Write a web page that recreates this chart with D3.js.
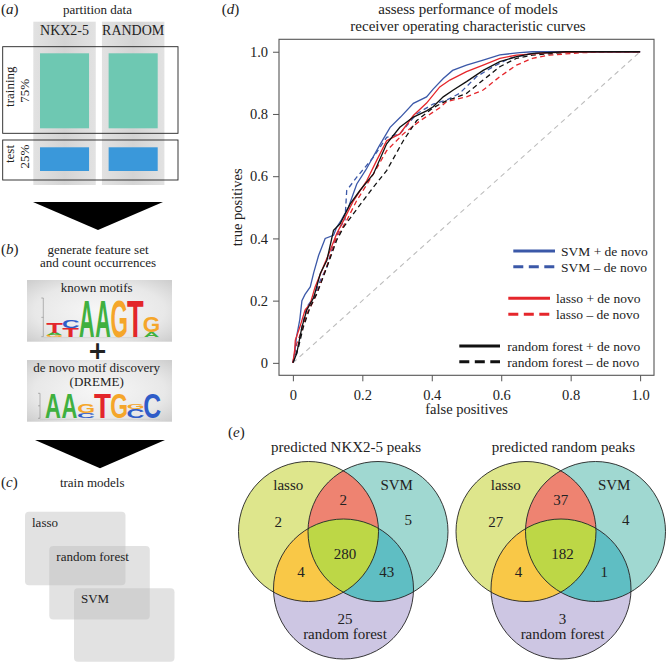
<!DOCTYPE html>
<html>
<head>
<meta charset="utf-8">
<script src="https://cdn.jsdelivr.net/npm/d3@7"></script>
<style>
  html, body { margin: 0; padding: 0; background: #fff; }
  svg { display: block; }
  text { font-family: "Liberation Serif", "Times New Roman", serif; fill: #222; }
</style>
</head>
<body>
<svg id="chart" width="666" height="665"></svg>
<script>
// ---------------- DATA ----------------
// (a) partition
const partitionGroups = ["NKX2-5", "RANDOM"];
const partitionSplits = ["training", "test"];
const partitionShares = ["75%", "25%"];

// (b) motif logos: each column listed bottom -> top as [letter, bits]
const knownMotif = [
  [["G", 0.1], ["A", 0.1], ["T", 0.55]],
  [["T", 0.45], ["C", 0.43]],
  [["A", 1.9]],
  [["A", 1.9]],
  [["G", 1.9]],
  [["T", 1.9]],
  [["A", 0.25], ["G", 0.85]]
];
const dremeMotif = [
  [["A", 2.0]],
  [["A", 2.0]],
  [["C", 0.4], ["G", 0.7]],
  [["T", 2.0]],
  [["G", 2.0]],
  [["C", 0.75], ["G", 0.45]],
  [["C", 2.0]]
];

// (c) models
const models = ["lasso", "random forest", "SVM"];

// (d) ROC curves [false positive rate, true positive rate]
const rocTicks = [0, 0.2, 0.4, 0.6, 0.8, 1.0];
const rocTickLabels = ["0", "0.2", "0.4", "0.6", "0.8", "1.0"];
const svmPlus = [[0,0],[0.005,0.03],[0.01,0.08],[0.02,0.14],[0.026,0.20],[0.035,0.22],[0.05,0.244],[0.06,0.29],[0.074,0.345],[0.093,0.40],[0.117,0.41],[0.126,0.436],[0.14,0.46],[0.16,0.50],[0.184,0.575],[0.21,0.62],[0.25,0.70],[0.28,0.757],[0.31,0.79],[0.347,0.834],[0.385,0.855],[0.404,0.88],[0.433,0.914],[0.46,0.94],[0.5,0.957],[0.548,0.973],[0.596,0.99],[0.653,0.997],[0.69,1.0],[1.0,1.0]];
const svmMinus = [[0,0],[0.011,0.03],[0.026,0.115],[0.04,0.18],[0.06,0.21],[0.079,0.265],[0.098,0.308],[0.117,0.383],[0.136,0.436],[0.15,0.46],[0.155,0.554],[0.184,0.597],[0.232,0.661],[0.27,0.725],[0.308,0.736],[0.356,0.8],[0.404,0.832],[0.443,0.845],[0.48,0.866],[0.529,0.92],[0.577,0.952],[0.624,0.979],[0.69,0.995],[0.787,1.0],[1,1]];
const lassoPlus = [[0,0],[0.005,0.04],[0.007,0.073],[0.02,0.115],[0.035,0.17],[0.05,0.19],[0.064,0.244],[0.088,0.31],[0.107,0.36],[0.126,0.415],[0.146,0.458],[0.174,0.52],[0.213,0.586],[0.241,0.65],[0.27,0.714],[0.308,0.736],[0.347,0.795],[0.385,0.835],[0.423,0.887],[0.452,0.909],[0.5,0.936],[0.548,0.957],[0.596,0.979],[0.644,0.989],[0.739,0.997],[0.883,1.0],[1,1]];
const lassoMinus = [[0,0],[0.011,0.062],[0.026,0.105],[0.04,0.158],[0.06,0.2],[0.083,0.265],[0.107,0.34],[0.126,0.404],[0.155,0.458],[0.184,0.522],[0.232,0.607],[0.27,0.682],[0.318,0.736],[0.366,0.778],[0.423,0.82],[0.443,0.84],[0.5,0.855],[0.548,0.877],[0.596,0.92],[0.644,0.957],[0.69,0.979],[0.739,0.989],[0.835,0.997],[0.93,1.0],[1,1]];
const rfPlus = [[0,0],[0.011,0.03],[0.026,0.115],[0.04,0.17],[0.06,0.21],[0.079,0.287],[0.098,0.33],[0.117,0.426],[0.136,0.447],[0.165,0.511],[0.193,0.554],[0.232,0.607],[0.27,0.704],[0.308,0.757],[0.347,0.79],[0.385,0.81],[0.404,0.823],[0.433,0.855],[0.462,0.877],[0.5,0.904],[0.548,0.94],[0.596,0.968],[0.644,0.984],[0.692,0.995],[0.787,1.0],[1,1]];
const rfMinus = [[0,0],[0.016,0.05],[0.03,0.115],[0.05,0.18],[0.069,0.222],[0.098,0.308],[0.126,0.394],[0.146,0.436],[0.174,0.479],[0.203,0.522],[0.232,0.565],[0.27,0.618],[0.318,0.714],[0.356,0.778],[0.404,0.82],[0.443,0.843],[0.462,0.85],[0.5,0.866],[0.548,0.909],[0.596,0.952],[0.644,0.979],[0.69,0.989],[0.787,0.998],[0.883,1.0],[1,1]];
const rocSeriesNames = ["SVM + de novo", "SVM \u2013 de novo", "lasso + de novo", "lasso \u2013 de novo", "random forest + de novo", "random forest \u2013 de novo"];

// (e) Venn counts: order = lasso only, lasso∩SVM, SVM only, lasso∩rf, all, SVM∩rf, rf only
const vennRegions = ["lasso", "lasso&SVM", "SVM", "lasso&rf", "all", "SVM&rf", "rf"];
const nkxCounts = [2, 2, 5, 4, 280, 43, 25];
const randomCounts = [27, 37, 4, 4, 182, 1, 3];
const vennTitles = ["predicted NKX2-5 peaks", "predicted random peaks"];

// ---------------- DRAWING ----------------
const svg = d3.select("#chart");
const defs = svg.append("defs");

function panelLabel(x, y, letter) {
  const t = svg.append("text").attr("x", x).attr("y", y).attr("font-size", 15);
  t.append("tspan").text("(");
  t.append("tspan").attr("font-style", "italic").text(letter);
  t.append("tspan").text(")");
}

// ===== (a) =====
panelLabel(1, 14, "a");
svg.append("text").attr("x", 97.5).attr("y", 14).attr("text-anchor", "middle").attr("font-size", 13).text("partition data");

const colGrad = defs.append("linearGradient").attr("id", "colGrad").attr("x1", 0).attr("x2", 1).attr("y1", 0).attr("y2", 0);
colGrad.append("stop").attr("offset", 0).attr("stop-color", "#e2e2e2");
colGrad.append("stop").attr("offset", 0.5).attr("stop-color", "#d4d4d4");
colGrad.append("stop").attr("offset", 1).attr("stop-color", "#e2e2e2");

const colX = d3.scaleBand().domain(partitionGroups).range([33.3, 164.4]).paddingInner(0.09);
partitionGroups.forEach(gname => {
  const x = colX(gname), w = colX.bandwidth();
  svg.append("rect").attr("x", x).attr("y", 21.7).attr("width", w).attr("height", 163.3).attr("fill", "url(#colGrad)");
  svg.append("text").attr("x", x + w / 2).attr("y", 35).attr("text-anchor", "middle").attr("font-size", 14).text(gname);
  svg.append("rect").attr("x", x + 6.7).attr("y", 53.3).attr("width", w - 13.4).attr("height", 75).attr("fill", "#6ec8b2");
  svg.append("rect").attr("x", x + 6.7).attr("y", 147.3).attr("width", w - 13.4).attr("height", 23.7).attr("fill", "#3a98da");
});
const splitBoxes = [[46.7, 133.3], [140, 180]];
const splitCenters = [[86.7, 90.8], [154, 156.7]];
partitionSplits.forEach((s, i) => {
  const [y0, y1] = splitBoxes[i];
  svg.append("rect").attr("x", 2.7).attr("y", y0).attr("width", 175.3).attr("height", y1 - y0)
    .attr("fill", "none").attr("stroke", "#222").attr("stroke-width", 0.9);
  svg.append("text").attr("transform", `translate(14,${splitCenters[i][0]}) rotate(-90)`).attr("text-anchor", "middle").attr("font-size", 13).text(s);
  svg.append("text").attr("transform", `translate(29,${splitCenters[i][1]}) rotate(-90)`).attr("text-anchor", "middle").attr("font-size", 13).text(partitionShares[i]);
});

// arrows
function arrow(x0, x1, yTop, yApex) {
  svg.append("path").attr("d", `M${x0},${yTop}L${x1},${yTop}L${(x0 + x1) / 2},${yApex}Z`).attr("fill", "#000");
}
arrow(33, 163, 202, 230);
arrow(35, 165, 440, 468.3);

// ===== (b) =====
panelLabel(1, 254, "b");
svg.append("text").attr("x", 98).attr("y", 253.5).attr("text-anchor", "middle").attr("font-size", 13).text("generate feature set");
svg.append("text").attr("x", 98).attr("y", 267.3).attr("text-anchor", "middle").attr("font-size", 13).text("and count occurrences");

const boxGrad = defs.append("radialGradient").attr("id", "boxGrad").attr("cx", 0.5).attr("cy", 0.5).attr("r", 0.75);
boxGrad.append("stop").attr("offset", 0).attr("stop-color", "#f7f7f7");
boxGrad.append("stop").attr("offset", 0.6).attr("stop-color", "#e8e8e8");
boxGrad.append("stop").attr("offset", 1).attr("stop-color", "#c8c8c8");

svg.append("rect").attr("x", 27).attr("y", 280).attr("width", 145).attr("height", 61.7).attr("fill", "url(#boxGrad)");
svg.append("text").attr("x", 96.7).attr("y", 292.3).attr("text-anchor", "middle").attr("font-size", 13).text("known motifs");
svg.append("text").attr("x", 97.5).attr("y", 359).attr("text-anchor", "middle").attr("font-size", 24).attr("font-weight", "bold")
  .style("font-family", "'DejaVu Sans', sans-serif").text("+");
svg.append("rect").attr("x", 27).attr("y", 360).attr("width", 145).attr("height", 61.7).attr("fill", "url(#boxGrad)");
svg.append("text").attr("x", 96.7).attr("y", 371.7).attr("text-anchor", "middle").attr("font-size", 13).text("de novo motif discovery");
svg.append("text").attr("x", 96.7).attr("y", 386.3).attr("text-anchor", "middle").attr("font-size", 13).text("(DREME)");

const letterColor = { A: "#3fb03f", C: "#2f5cc8", G: "#f5a62a", T: "#e3262b" };
const letterInk = { A: [0.0, 0.722], C: [0.04, 0.68], G: [0.04, 0.73], T: [0.02, 0.59] };
function letter(g, ch, x, yTop, w, h) {
  if (h <= 0) return;
  const [l, r] = letterInk[ch];
  const sx = w / ((r - l) * 100), sy = h / 72;
  g.append("text").attr("transform", `translate(${x - l * 100 * sx},${yTop + h}) scale(${sx},${sy})`)
    .attr("font-size", 100).attr("font-weight", "bold")
    .style("font-family", "'Liberation Sans', Arial, sans-serif")
    .style("fill", letterColor[ch]).text(ch);
}
function logo(cols, x0, x1, yBase, pxPerBit, axisX) {
  const g = svg.append("g");
  const xb = d3.scaleBand().domain(d3.range(cols.length)).range([x0, x1]).paddingInner(0.04);
  const yb = d3.scaleLinear().domain([0, 2]).range([yBase, yBase - 2 * pxPerBit]);
  g.append("line").attr("x1", axisX).attr("x2", axisX).attr("y1", yb(0)).attr("y2", yb(2)).attr("stroke", "#777").attr("stroke-width", 0.5);
  [0, 1, 2].forEach(b => g.append("line").attr("x1", axisX - 2).attr("x2", axisX).attr("y1", yb(b)).attr("y2", yb(b)).attr("stroke", "#777").attr("stroke-width", 0.5));
  g.append("line").attr("x1", axisX).attr("x2", x1).attr("y1", yBase + 1).attr("y2", yBase + 1).attr("stroke", "#bbb").attr("stroke-width", 0.4);
  cols.forEach((col, i) => {
    let acc = 0;
    col.forEach(([ch, bits]) => {
      const yt = yb(acc + bits), ybot = yb(acc);
      letter(g, ch, xb(i), yt, xb.bandwidth(), ybot - yt);
      acc += bits;
    });
  });
}
logo(knownMotif, 46.7, 159.3, 336.7, 19.35, 43.3);
logo(dremeMotif, 45, 160, 418.3, 12.5, 40);

// ===== (c) =====
panelLabel(1, 486.7, "c");
svg.append("text").attr("x", 92.2).attr("y", 486.7).attr("text-anchor", "middle").attr("font-size", 13).text("train models");
const modelBoxes = [[25, 511.7], [49.3, 546], [74, 588.3]];
models.forEach((m, i) => {
  const [x, y] = modelBoxes[i];
  svg.append("rect").attr("x", x).attr("y", y).attr("width", 100.5).attr("height", 73.5).attr("rx", 4)
    .attr("fill", "#b9b9b9").attr("fill-opacity", 0.42);
});
models.forEach((m, i) => {
  const [x, y] = modelBoxes[i];
  svg.append("text").attr("x", x + 7).attr("y", y + 15).attr("font-size", 13).text(m);
});

// ===== (d) ROC =====
panelLabel(221.7, 14, "d");
svg.append("text").attr("x", 468).attr("y", 14).attr("text-anchor", "middle").attr("font-size", 15).text("assess performance of models");
svg.append("text").attr("x", 468).attr("y", 30.7).attr("text-anchor", "middle").attr("font-size", 15).text("receiver operating characteristic curves");

const xS = d3.scaleLinear().domain([-0.04, 1.04]).range([279, 654]);
const yS = d3.scaleLinear().domain([-0.04, 1.04]).range([375.3, 39.3]);
const roc = svg.append("g");

const xAxis = d3.axisBottom(xS).tickValues(rocTicks).tickFormat((d, i) => rocTickLabels[i]).tickSize(6).tickPadding(5);
const yAxis = d3.axisLeft(yS).tickValues(rocTicks).tickFormat((d, i) => rocTickLabels[i]).tickSize(6).tickPadding(5);
const gx = roc.append("g").attr("transform", "translate(0,375.3)").call(xAxis);
const gy = roc.append("g").attr("transform", "translate(279,0)").call(yAxis);
[gx, gy].forEach(g => {
  g.select(".domain").remove();
  g.selectAll(".tick line").attr("stroke", "#555");
  g.selectAll(".tick text").attr("font-size", 14.5).attr("fill", "#222").style("font-family", "'Liberation Serif', serif");
});
gx.selectAll(".tick text").attr("dy", "0.95em");

roc.append("rect").attr("x", 279).attr("y", 39.3).attr("width", 375).attr("height", 336)
  .attr("fill", "none").attr("stroke", "#555").attr("stroke-width", 1.1);

roc.append("line").attr("x1", xS(0)).attr("y1", yS(0)).attr("x2", xS(1)).attr("y2", yS(1))
  .attr("stroke", "#bdbdbd").attr("stroke-width", 1.1).attr("stroke-dasharray", "5,4");

const line = d3.line().x(d => xS(d[0])).y(d => yS(d[1]));
const rocSeries = [svmMinus, lassoMinus, rfMinus, svmPlus, lassoPlus, rfPlus];
const rocColors = ["#3b58a8", "#e5262b", "#111111", "#3b58a8", "#e5262b", "#111111"];
const rocDashed = [true, true, true, false, false, false];
rocSeries.forEach((s, i) => {
  roc.append("path").attr("d", line(s)).attr("fill", "none").attr("stroke", rocColors[i])
    .attr("stroke-width", 1.3).attr("stroke-dasharray", rocDashed[i] ? "5,3.5" : null);
});

xAxis; // axis titles
roc.append("text").attr("x", 466.5).attr("y", 413.5).attr("text-anchor", "middle").attr("font-size", 14.5).text("false positives");
roc.append("text").attr("transform", "translate(242,207.3) rotate(-90)").attr("text-anchor", "middle").attr("font-size", 14.5).text("true positives");

// legend
const legendColors = ["#3b58a8", "#3b58a8", "#e5262b", "#e5262b", "#111111", "#111111"];
const legendDash = [false, true, false, true, false, true];
const legendRows = [[513.3, 555, 251, 561], [513.3, 555, 266.7, 561], [508.3, 550, 298.3, 556], [508.3, 550, 314.3, 556], [459.3, 500, 346, 507.3], [459.3, 500, 361.7, 507.3]];
rocSeriesNames.forEach((name, i) => {
  const [x0, x1, y, tx] = legendRows[i];
  roc.append("line").attr("x1", x0).attr("x2", x1).attr("y1", y).attr("y2", y).attr("stroke", legendColors[i])
    .attr("stroke-width", 3).attr("stroke-dasharray", legendDash[i] ? "10,5.5" : null);
  roc.append("text").attr("x", tx).attr("y", y + 4.8).attr("font-size", 13.5).text(name);
});

// ===== (e) Venn =====
panelLabel(228, 437, "e");
const vennColors = { lasso: "#dee68c", SVM: "#a0d8d1", rf: "#cdc6e3", "lasso&SVM": "#ee8371", "lasso&rf": "#f9c847", "SVM&rf": "#5fbec3", all: "#bdd746" };
const labelOffsets = { lasso: [-30.2, -9.8], "lasso&SVM": [34.8, -31.5], SVM: [99.8, -11.5], "lasso&rf": [-7.5, 40.2], all: [36.5, 21.8], "SVM&rf": [78.2, 40.2], rf: [36.5, 86.8] };
const R = 70;

function venn(idx, cx, cy, counts, title) {
  const g = svg.append("g");
  const C = { lasso: [cx, cy], SVM: [cx + 69.5, cy], rf: [cx + 35, cy + 57.5] };
  ["lasso", "SVM"].forEach(k => {
    defs.append("clipPath").attr("id", `clip${idx}${k}`).append("circle").attr("cx", C[k][0]).attr("cy", C[k][1]).attr("r", R);
  });
  const circ = (parent, k, fill) => parent.append("circle").attr("cx", C[k][0]).attr("cy", C[k][1]).attr("r", R).attr("fill", fill);
  circ(g, "lasso", vennColors.lasso);
  circ(g, "SVM", vennColors.SVM);
  circ(g, "rf", vennColors.rf);
  circ(g.append("g").attr("clip-path", `url(#clip${idx}lasso)`), "SVM", vennColors["lasso&SVM"]);
  circ(g.append("g").attr("clip-path", `url(#clip${idx}lasso)`), "rf", vennColors["lasso&rf"]);
  circ(g.append("g").attr("clip-path", `url(#clip${idx}SVM)`), "rf", vennColors["SVM&rf"]);
  circ(g.append("g").attr("clip-path", `url(#clip${idx}lasso)`).append("g").attr("clip-path", `url(#clip${idx}SVM)`), "rf", vennColors.all);
  ["lasso", "SVM", "rf"].forEach(k => {
    g.append("circle").attr("cx", C[k][0]).attr("cy", C[k][1]).attr("r", R).attr("fill", "none").attr("stroke", "#222").attr("stroke-width", 0.9);
  });
  vennRegions.forEach((r, i) => {
    const [dx, dy] = labelOffsets[r];
    g.append("text").attr("x", cx + dx).attr("y", cy + dy).attr("dy", "0.35em").attr("text-anchor", "middle").attr("font-size", 15).text(counts[i]);
  });
  g.append("text").attr("x", cx - 20.2).attr("y", cy - 46.5).attr("dy", "0.35em").attr("text-anchor", "middle").attr("font-size", 15).text("lasso");
  g.append("text").attr("x", cx + 88.2).attr("y", cy - 46.5).attr("dy", "0.35em").attr("text-anchor", "middle").attr("font-size", 15).text("SVM");
  g.append("text").attr("x", cx + 36.5).attr("y", cy + 101.8).attr("dy", "0.35em").attr("text-anchor", "middle").attr("font-size", 15).text("random forest");
  g.append("text").attr("x", cx + 37.5).attr("y", 451.7).attr("text-anchor", "middle").attr("font-size", 15).text(title);
}
venn(0, 308.5, 531.5, nkxCounts, vennTitles[0]);
venn(1, 526, 531.5, randomCounts, vennTitles[1]);
</script>
</body>
</html>
